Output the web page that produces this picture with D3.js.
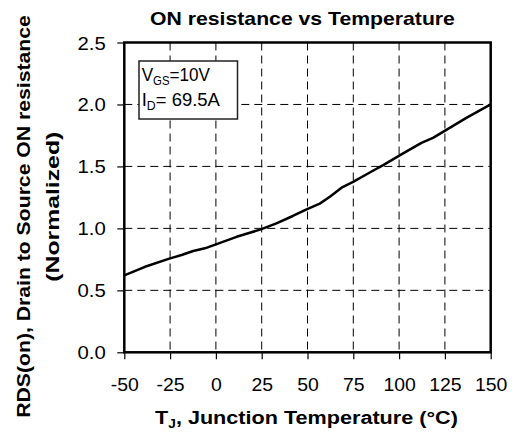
<!DOCTYPE html>
<html><head><meta charset="utf-8">
<script src="https://cdn.jsdelivr.net/npm/d3@7"></script>
<style>
body{margin:0;background:#fff;}
text{font-family:"Liberation Sans",Arial,sans-serif;fill:#000;}
</style></head>
<body>
<svg id="c" width="514" height="438"></svg>
<script>
const temps = [-50,-38.7,-25,-18.7,-12.4,-6,0.4,11.3,24.9,33,42,49.5,56.7,62.2,68.6,74.9,84,91.3,102.2,112.2,118.5,124.9,136.7,150];
const rds   = [0.62,0.69,0.758,0.785,0.817,0.839,0.873,0.932,0.994,1.04,1.10,1.153,1.20,1.255,1.328,1.376,1.451,1.51,1.605,1.69,1.73,1.787,1.892,2.0];
const xTicks = [-50,-25,0,25,50,75,100,125,150];
const yTicks = [0,0.5,1.0,1.5,2.0,2.5];
const title = "ON resistance vs Temperature";
const yLabel1 = "RDS(on), Drain to Source ON resistance";
const yLabel2 = "(Normalized)";

const svg = d3.select("#c");
const L=124.3, R=490.7, T=42.5, B=352.3;
const x = d3.scaleLinear().domain([-50,150]).range([L,R]);
const y = d3.scaleLinear().domain([0,2.5]).range([B,T]);

// stretch a text horizontally (in its own frame) about x=ax so its width equals w
function fit(sel, w, ax){
  const bw = sel.node().getBBox().width;
  const s = w / bw;
  sel.attr("transform", `translate(${ax},0) scale(${s},1) translate(${-ax},0)`);
}

// grid
const g = svg.append("g");
g.selectAll(".vg").data(xTicks.slice(1,-1)).join("line")
  .attr("x1",d=>x(d)).attr("x2",d=>x(d)).attr("y1",T).attr("y2",B)
  .attr("stroke","#000").attr("stroke-width",1).attr("stroke-dasharray","8,5");
g.selectAll(".hg").data(yTicks.slice(1,-1)).join("line")
  .attr("x1",L).attr("x2",R).attr("y1",d=>y(d)).attr("y2",d=>y(d))
  .attr("stroke","#000").attr("stroke-width",1).attr("stroke-dasharray","8,5");

// axes
const xa = svg.append("g").attr("transform",`translate(0,${B})`)
  .call(d3.axisBottom(x).tickValues(xTicks).tickSize(7).tickFormat(d=>String(d)));
const ya = svg.append("g").attr("transform",`translate(${L},0)`)
  .call(d3.axisLeft(y).tickValues(yTicks).tickSize(7).tickFormat(d3.format(".1f")));
[xa,ya].forEach(a=>{
  a.select(".domain").remove();
  a.selectAll(".tick line").attr("stroke","#000").attr("stroke-width",1.2);
  a.selectAll(".tick text").attr("font-size",18).attr("font-family","Liberation Sans, Arial, sans-serif").attr("fill","#000");
});
xa.selectAll(".tick text").attr("y",38.4).attr("dy",null).attr("transform","scale(1.08,1)");
ya.selectAll(".tick text").attr("x",0).attr("dy",6.5).attr("transform","translate(-18.5,0) scale(1.13,1)");

// frame
svg.append("rect").attr("x",L).attr("y",T).attr("width",R-L).attr("height",B-T)
  .attr("fill","none").attr("stroke","#000").attr("stroke-width",2.5);

// curve
svg.append("path").datum(temps.map((t,i)=>[t,rds[i]]))
  .attr("d",d3.line().x(d=>x(d[0])).y(d=>y(d[1])))
  .attr("fill","none").attr("stroke","#000").attr("stroke-width",2.5).attr("stroke-linejoin","round");

// legend box
svg.append("rect").attr("x",139).attr("y",61).attr("width",98.5).attr("height",58)
  .attr("fill","#fff").attr("stroke","#222").attr("stroke-width",1.5);
const t1 = svg.append("text").attr("x",141.7).attr("y",81).attr("font-size",18);
t1.append("tspan").text("V");
t1.append("tspan").attr("font-size",12).attr("dy",4).text("GS");
t1.append("tspan").attr("dy",-4).text("=10V");
fit(t1, 68.3, 141.7);
const t2 = svg.append("text").attr("x",141.7).attr("y",106).attr("font-size",18);
t2.append("tspan").text("I");
t2.append("tspan").attr("font-size",12).attr("dy",4).text("D");
t2.append("tspan").attr("dy",-4).text("= 69.5A");
fit(t2, 78.3, 141.7);

// title
const tt = svg.append("text").attr("x",302.5).attr("y",25).attr("text-anchor","middle")
  .attr("font-size",18.5).attr("font-weight","bold").text(title);
fit(tt, 305, 302.5);

// x label
const xl = svg.append("text").attr("x",306.5).attr("y",424).attr("text-anchor","middle")
  .attr("font-size",19).attr("font-weight","bold");
xl.append("tspan").text("T");
xl.append("tspan").attr("font-size",12).attr("dy",4).text("J");
xl.append("tspan").attr("dy",-4).text(", Junction Temperature (°C)");
fit(xl, 303, 306.5);

// y label
const yl1 = svg.append("g").attr("transform","translate(30,216.5) rotate(-90)")
  .append("text").attr("x",0).attr("y",0).attr("text-anchor","middle")
  .attr("font-size",18.5).attr("font-weight","bold").text(yLabel1);
fit(yl1, 403, 0);
const yl2 = svg.append("g").attr("transform","translate(59,206.7) rotate(-90)")
  .append("text").attr("x",0).attr("y",0).attr("text-anchor","middle")
  .attr("font-size",18.5).attr("font-weight","bold").text(yLabel2);
fit(yl2, 150, 0);
</script>
</body></html>
